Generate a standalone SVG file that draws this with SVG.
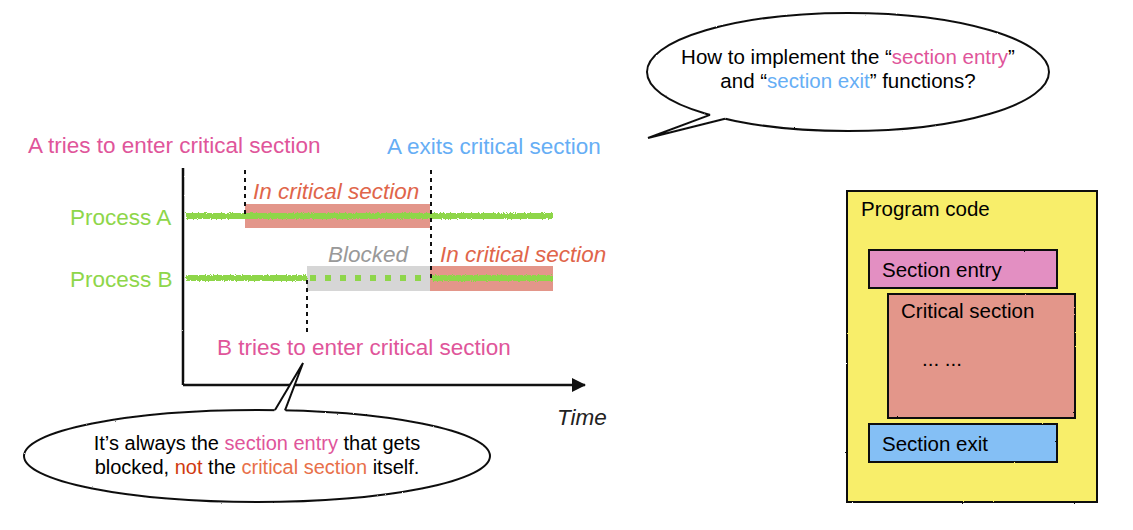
<svg xmlns="http://www.w3.org/2000/svg" width="1133" height="530" viewBox="0 0 1133 530">
<style>
text{font-family:"Liberation Sans",Arial,sans-serif}
.lbl{font-size:22.5px}
.pink{fill:#e0559a}
.blue{fill:#66aef5}
.green{fill:#8ed64a}
.crit{fill:#e0654a;font-style:italic}
.box{stroke:#111;stroke-width:2;filter:url(#rough)}
.dash{stroke:#111;stroke-width:2;stroke-dasharray:4 4}
.gline{stroke:#8ed64a;stroke-width:6;filter:url(#noisy)}
.bub{fill:#fff;stroke:#111;stroke-width:2;filter:url(#rough)}
.tail{fill:none;stroke:#111;stroke-width:2;stroke-linejoin:miter;filter:url(#rough)}
.cover{fill:#fff}
.t20{font-size:20.5px}
</style>
<defs>
<filter id="rough" filterUnits="userSpaceOnUse" x="0" y="0" width="1133" height="530">
<feTurbulence type="fractalNoise" baseFrequency="0.9" numOctaves="2" seed="3" result="n"/>
<feDisplacementMap in="SourceGraphic" in2="n" scale="1.6"/>
</filter>
<filter id="noisy" filterUnits="userSpaceOnUse" x="0" y="0" width="1133" height="530">
<feTurbulence type="fractalNoise" baseFrequency="1.2" numOctaves="2" seed="5" result="n"/>
<feDisplacementMap in="SourceGraphic" in2="n" scale="3.5"/>
</filter>
<marker id="arr" markerWidth="14" markerHeight="14" refX="13" refY="7" orient="auto" markerUnits="userSpaceOnUse">
<path d="M0,0 L14,7 L0,14 Z" fill="#111"/>
</marker>
</defs>

<g id="top-bubble">
<ellipse class="bub" cx="848" cy="72" rx="201" ry="59"/>
<polygon class="cover" points="711,111 710,115.5 648,138 725,119.5 727,114"/>
<polyline class="tail" points="710,114.9 648,138 725,118.7"/>
<text class="t20" x="848" y="64" text-anchor="middle">How to implement the “<tspan class="pink">section entry</tspan>”</text>
<text class="t20" x="848" y="88" text-anchor="middle">and “<tspan class="blue">section exit</tspan>” functions?</text>
</g>

<g id="labels">
<text class="lbl pink" x="28" y="153">A tries to enter critical section</text>
<text class="lbl blue" x="387" y="154">A exits critical section</text>
<text class="lbl green" x="70" y="225">Process A</text>
<text class="lbl green" x="70" y="287">Process B</text>
<text class="lbl pink" x="217" y="355">B tries to enter critical section</text>
<text class="lbl" x="557" y="425" font-style="italic" fill="#222">Time</text>
</g>

<g id="process-a">
<rect x="245" y="204" width="185" height="24" fill="#e3968a"/>
<line class="gline" x1="186" y1="216" x2="553" y2="216"/>
<text class="lbl crit" x="253" y="199">In critical section</text>
</g>

<g id="process-b">
<rect x="307" y="266" width="123" height="25" fill="#d6d6d6"/>
<rect x="430" y="266" width="123" height="25" fill="#e3968a"/>
<line class="gline" x1="186" y1="278" x2="307" y2="278"/>
<line class="gline" x1="432" y1="278" x2="553" y2="278"/>
<line x1="310" y1="278" x2="430" y2="278" stroke="#8ed64a" stroke-width="6" stroke-dasharray="6 9"/>
<text class="lbl" x="328" y="262" font-style="italic" fill="#999">Blocked</text>
<text class="lbl crit" x="440" y="262">In critical section</text>
</g>

<g id="connectors">
<line x1="183" y1="168" x2="183" y2="385" stroke="#111" stroke-width="2.5" filter="url(#rough)"/>
<line x1="183" y1="385" x2="585" y2="385" stroke="#111" stroke-width="2.5" marker-end="url(#arr)"/>
<line class="dash" x1="245" y1="170" x2="245" y2="216"/>
<line class="dash" x1="431" y1="170" x2="431" y2="280"/>
<line class="dash" x1="307" y1="280" x2="307" y2="332"/>
</g>

<g id="bottom-bubble">
<ellipse class="bub" cx="257" cy="456" rx="233" ry="46"/>
<polygon class="cover" points="274,413 275,409 303,363 285,409 286,413"/>
<polyline class="tail" points="275,410.1 303,363 285,410.3"/>
<text font-size="20" x="257" y="450" text-anchor="middle">It’s always the <tspan class="pink">section entry</tspan> that gets</text>
<text font-size="20" x="257" y="474" text-anchor="middle">blocked, <tspan fill="#d03a10">not</tspan> the <tspan fill="#e8704a">critical section</tspan> itself.</text>
</g>

<g id="program-code">
<rect class="box" x="847" y="191" width="250" height="311" fill="#f8ee6a"/>
<text class="t20" x="861" y="216">Program code</text>
</g>
<g id="section-entry">
<rect class="box" x="869" y="250" width="188" height="38" fill="#e38fc2"/>
<text class="t20" x="882" y="277">Section entry</text>
</g>
<g id="critical-section">
<rect class="box" x="888" y="294" width="187" height="124" fill="#e3968a"/>
<text class="t20" x="901" y="318">Critical section</text>
<text class="t20" x="922" y="366">... ...</text>
</g>
<g id="section-exit">
<rect class="box" x="869" y="424" width="188" height="38" fill="#84bff5"/>
<text class="t20" x="882" y="451">Section exit</text>
</g>
</svg>
